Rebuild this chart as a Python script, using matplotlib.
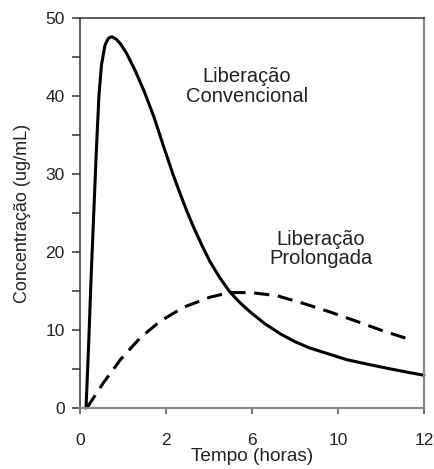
import matplotlib
matplotlib.use("Agg")
import matplotlib.pyplot as plt

plt.rcParams["font.family"] = ["Liberation Sans", "DejaVu Sans"]

# x positions are in tick-slot units (ticks equally spaced, labelled 0, 2, 6, 10, 12)
tick_labels = ["0", "2", "6", "10", "12"]

conv_x = [0.07, 0.10, 0.13, 0.16, 0.19, 0.22, 0.25, 0.29, 0.33, 0.37, 0.42, 0.47,
          0.54, 0.64, 0.75, 0.86, 0.97, 1.08, 1.16, 1.24, 1.32, 1.42, 1.51, 1.62,
          1.74, 1.86, 1.98, 2.15, 2.33, 2.50, 2.67, 2.90, 3.10, 3.35, 3.57, 3.80, 4.00]
conv_y = [0, 8, 17, 25, 33, 40, 44, 46.5, 47.4, 47.6, 47.3, 46.7,
          45.5, 43.3, 40.5, 37.3, 33.6, 30.0, 27.6, 25.3, 23.2, 20.8, 18.8, 16.8,
          14.9, 13.5, 12.3, 10.8, 9.5, 8.5, 7.7, 6.9, 6.2, 5.6, 5.1, 4.6, 4.2]

prol_x = [0.08, 0.27, 0.47, 0.70, 0.93, 1.20, 1.51, 1.74, 1.98, 2.29, 2.60, 2.91,
          3.22, 3.52, 3.86]
prol_y = [0, 3.2, 6.2, 9.0, 11.1, 12.9, 14.2, 14.8, 14.8, 14.4, 13.4, 12.3,
          11.1, 9.9, 8.7]

fig = plt.figure(figsize=(4.34, 4.69), dpi=100)
ax = fig.add_axes([80 / 434, 1 - 408 / 469, 344 / 434, 390 / 469])

ax.plot(conv_x, conv_y, color="black", lw=2.2, solid_joinstyle="round",
        solid_capstyle="round", clip_on=False)
ax.plot(prol_x, prol_y, color="black", lw=2.2, linestyle=(0, (5, 2.8)),
        dash_capstyle="butt")

ax.set_xlim(0, 4)
ax.set_ylim(0, 50)
ax.set_xticks(range(len(tick_labels)))
ax.set_xticklabels(tick_labels)
ax.set_yticks(range(0, 51, 10))
ax.set_yticks(range(5, 50, 10), minor=True)

for side in ["left", "top"]:
    ax.spines[side].set_color("#333333")
    ax.spines[side].set_linewidth(1.1)
for side in ["bottom", "right"]:
    ax.spines[side].set_color("#8a8a8a")
    ax.spines[side].set_linewidth(1.6)

ax.tick_params(axis="x", direction="out", length=4, width=1.2, color="#555555",
               pad=14, labelsize=12.5, labelcolor="#222222")
ax.tick_params(axis="y", which="both", direction="out", length=6, width=1.1,
               color="#333333", pad=5, labelsize=12.5, labelcolor="#222222")

ax.set_xlabel("Tempo (horas)", fontsize=13.7, color="#222222", labelpad=0)
ax.set_ylabel("Concentração (ug/mL)", fontsize=13, color="#222222", labelpad=10)

ax.text(1.94, 41.2, "Liberação\nConvencional", ha="center", va="center",
        fontsize=14.5, color="#222222", linespacing=1.05)
ax.text(2.80, 20.4, "Liberação\nProlongada", ha="center", va="center",
        fontsize=14.5, color="#222222", linespacing=1.05)

fig.savefig("out.png", dpi=100)
